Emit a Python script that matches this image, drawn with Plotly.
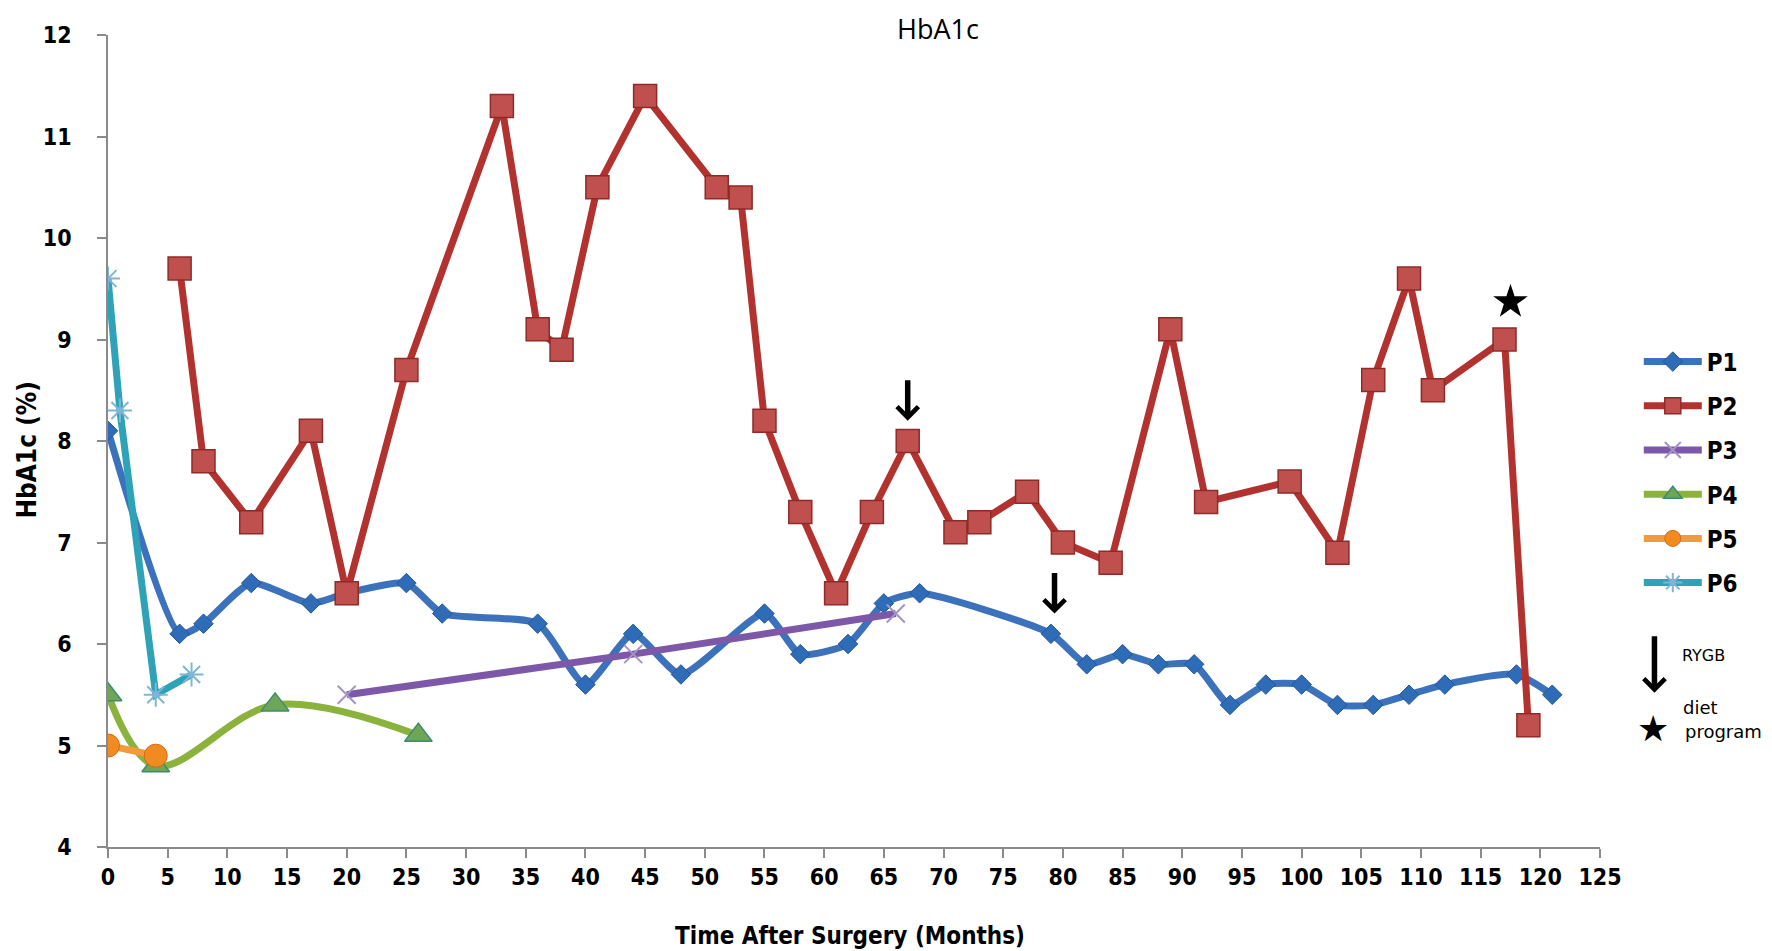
import plotly.graph_objects as go

# ---- data ----
p1_x = [0, 6, 8, 12, 17, 20, 25, 28, 36, 40, 44, 48, 55, 58, 62, 65, 68, 79, 82, 85, 88, 91, 94, 97, 100, 103, 106, 109, 112, 118, 121]
p1_y = [8.1, 6.1, 6.2, 6.6, 6.4, 6.5, 6.6, 6.3, 6.2, 5.6, 6.1, 5.7, 6.3, 5.9, 6.0, 6.4, 6.5, 6.1, 5.8, 5.9, 5.8, 5.8, 5.4, 5.6, 5.6, 5.4, 5.4, 5.5, 5.6, 5.7, 5.5]

p2_x = [6, 8, 12, 17, 20, 25, 33, 36, 38, 41, 45, 51, 53, 55, 58, 61, 64, 67, 71, 73, 77, 80, 84, 89, 92, 99, 103, 106, 109, 111, 117, 119]
p2_y = [9.7, 7.8, 7.2, 8.1, 6.5, 8.7, 11.3, 9.1, 8.9, 10.5, 11.4, 10.5, 10.4, 8.2, 7.3, 6.5, 7.3, 8.0, 7.1, 7.2, 7.5, 7.0, 6.8, 9.1, 7.4, 7.6, 6.9, 8.6, 9.6, 8.5, 9.0, 5.2]

p3_x = [20, 44, 66]
p3_y = [5.5, 5.9, 6.3]

p4_x = [0, 4, 14, 26]
p4_y = [5.5, 4.8, 5.4, 5.1]

p5_x = [0, 4]
p5_y = [5.0, 4.9]

p6_x = [0, 1, 4, 7]
p6_y = [9.6, 8.3, 5.5, 5.7]

rygb_x = [67, 79.3]
rygb_y = [8.2, 6.3]
diet_x = [117.5]
diet_y = [9.37]

x_ticks = list(range(0, 126, 5))
y_ticks = list(range(4, 13))

FONT = "Liberation Sans Narrow, DejaVu Sans Condensed, Arial Narrow, sans-serif"
SMALL = "DejaVu Sans, sans-serif"

fig = go.Figure()

fig.add_trace(go.Scatter(
    x=p1_x, y=p1_y, name="P1", mode="lines+markers", legendgroup="1",
    line=dict(color="#3C72BC", width=7, shape="spline", smoothing=0.6),
    marker=dict(symbol="diamond", size=15, color="#2F6CB8", line=dict(color="#24569A", width=1))))
fig.add_trace(go.Scatter(
    x=p2_x, y=p2_y, name="P2", mode="lines+markers", legendgroup="2",
    line=dict(color="#B2322F", width=7),
    marker=dict(symbol="square", size=23, color="#C0504D", line=dict(color="#8E2B28", width=1.5))))
fig.add_trace(go.Scatter(
    x=p3_x, y=p3_y, name="P3", mode="lines+markers", legendgroup="3",
    line=dict(color="#7D57A8", width=7),
    marker=dict(symbol="x-thin", size=18, color="#A592C8", line=dict(color="#A592C8", width=2))))
fig.add_trace(go.Scatter(
    x=p4_x, y=p4_y, name="P4", mode="lines+markers", legendgroup="4",
    line=dict(color="#8AB23C", width=7, shape="spline", smoothing=1.0),
    marker=dict(symbol="triangle-up", size=24, color="#6FA557", line=dict(color="#3F8A73", width=1.5))))
fig.add_trace(go.Scatter(
    x=p5_x, y=p5_y, name="P5", mode="lines+markers", legendgroup="5",
    line=dict(color="#F39A3F", width=7),
    marker=dict(symbol="circle", size=23, color="#F28A22", line=dict(color="#D26C12", width=1))))
fig.add_trace(go.Scatter(
    x=p6_x, y=p6_y, name="P6", mode="lines+markers", legendgroup="6",
    line=dict(color="#2EA2B6", width=7),
    marker=dict(symbol="asterisk", size=20, color="#7FB6D6", line=dict(color="#7FB6D6", width=2))))

# diet program star on chart
fig.add_trace(go.Scatter(
    x=diet_x, y=diet_y, mode="markers", showlegend=False, hoverinfo="skip",
    marker=dict(symbol="star", size=26, color="black")))

annotations = []
# RYGB arrows on chart
for ax_, ay_ in zip(rygb_x, rygb_y):
    annotations.append(dict(x=ax_, y=ay_, xref="x", yref="y", ax=0, ay=-42,
                            showarrow=True, arrowhead=4, arrowsize=0.75, arrowwidth=5.5,
                            arrowcolor="black", text=""))

# key for arrow and star
annotations.append(dict(x=1.0365, y=0.19, xref="paper", yref="paper", ax=0, ay=-58,
                        showarrow=True, arrowhead=4, arrowsize=0.75, arrowwidth=5.5,
                        arrowcolor="black", text=""))
annotations.append(dict(x=1.0535, y=0.236, xref="paper", yref="paper", xanchor="left",
                        yanchor="middle", showarrow=False, text="RYGB",
                        font=dict(family=SMALL, size=16, color="black")))
annotations.append(dict(x=1.0355, y=0.146, xref="paper", yref="paper", xanchor="center",
                        yanchor="middle", showarrow=False, text="★",
                        font=dict(family=SMALL, size=36, color="black")))
annotations.append(dict(x=1.0545, y=0.172, xref="paper", yref="paper", xanchor="left",
                        yanchor="middle", showarrow=False, text="diet",
                        font=dict(family=SMALL, size=18, color="black")))
annotations.append(dict(x=1.0555, y=0.142, xref="paper", yref="paper", xanchor="left",
                        yanchor="middle", showarrow=False, text="program",
                        font=dict(family=SMALL, size=18, color="black")))

# titles
annotations.append(dict(x=0.556, y=1.008, xref="paper", yref="paper", xanchor="center",
                        yanchor="middle", showarrow=False, text="HbA1c",
                        font=dict(family="Open Sans, sans-serif", size=27, color="black")))
annotations.append(dict(x=-0.054, y=0.49, xref="paper", yref="paper", xanchor="center",
                        yanchor="middle", showarrow=False, text="HbA1c (%)", textangle=-90,
                        font=dict(family=FONT, size=26, color="black", weight="bold")))
annotations.append(dict(x=0.4975, y=-0.109, xref="paper", yref="paper", xanchor="center",
                        yanchor="middle", showarrow=False, text="Time After Surgery (Months)",
                        font=dict(family=FONT, size=24, color="black", weight="bold")))

fig.update_layout(
    width=1772, height=951,
    margin=dict(l=100, r=180, t=27, b=112),
    paper_bgcolor="white", plot_bgcolor="white",
    annotations=annotations,
    showlegend=True,
    legend=dict(x=1.026, y=0.625, xanchor="left", yanchor="top",
                font=dict(family=FONT, size=24, color="black", weight="bold"),
                itemwidth=58,
                tracegroupgap=10, bgcolor="rgba(0,0,0,0)"),
)

fig.update_xaxes(range=[0, 125], tickvals=x_ticks, ticktext=[str(v) for v in x_ticks],
                 showgrid=False, zeroline=False, showline=True, linecolor="#8A8A8A", linewidth=1.5,
                 ticks="outside", ticklen=9, tickcolor="#8A8A8A", tickwidth=1.5,
                 ticklabelstandoff=0,
                 tickfont=dict(family=FONT, size=23, color="black", weight="bold"))
fig.update_yaxes(range=[4, 12], tickvals=y_ticks, ticktext=[str(v) for v in y_ticks],
                 showgrid=False, zeroline=False, showline=True, linecolor="#8A8A8A", linewidth=1.5,
                 ticks="outside", ticklen=9, tickcolor="#8A8A8A", tickwidth=1.5,
                 ticklabelstandoff=21,
                 tickfont=dict(family=FONT, size=23, color="black", weight="bold"))

fig.write_html("out.html")
